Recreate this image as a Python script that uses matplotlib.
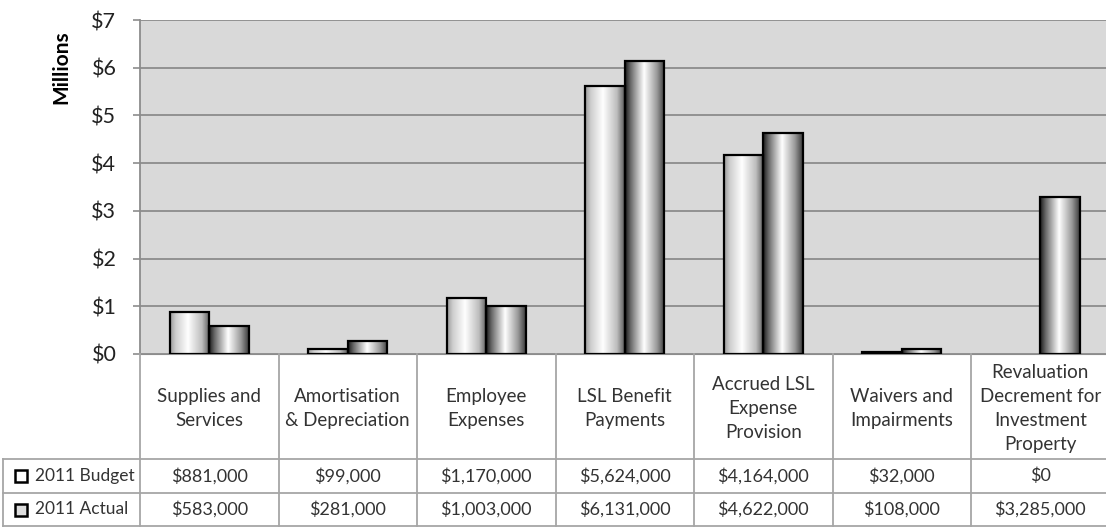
import numpy as np
import matplotlib
matplotlib.use("Agg")
import matplotlib.pyplot as plt
from matplotlib.colors import LinearSegmentedColormap
from matplotlib.patches import Rectangle

plt.rcParams['font.family'] = ['Lato', 'DejaVu Sans']

categories = ["Supplies and\nServices", "Amortisation\n& Depreciation", "Employee\nExpenses",
              "LSL Benefit\nPayments", "Accrued LSL\nExpense\nProvision", "Waivers and\nImpairments",
              "Revaluation\nDecrement for\nInvestment\nProperty"]
series_names = ["2011 Budget", "2011 Actual"]
budget = [881000, 99000, 1170000, 5624000, 4164000, 32000, 0]
actual = [583000, 281000, 1003000, 6131000, 4622000, 108000, 3285000]

W, H = 1106, 527
fig = plt.figure(figsize=(W / 100, H / 100), dpi=100)

# plot area in pixels: left edge, $0 line, $7 line, column width
px_left, px_zero, px_top, col_w = 140, 354, 20, 138.5
ax = fig.add_axes([px_left / W, (H - px_zero) / H, 7 * col_w / W, (px_zero - px_top) / H])
ax.set_facecolor('#d9d9d9')

x = np.arange(len(categories))
bw = 0.285
# shading across each bar: (position, grey level)
cm_budget = LinearSegmentedColormap.from_list('bud', [(0, '#9a9a9a'), (0.15, '#cfcfcf'), (0.45, '#ffffff'),
                                                     (0.8, '#bdbdbd'), (1, '#5a5a5a')])
cm_actual = LinearSegmentedColormap.from_list('act', [(0, '#1a1a1a'), (0.15, '#6e6e6e'), (0.48, '#ffffff'),
                                                     (0.8, '#9a9a9a'), (1, '#3a3a3a')])
grad = np.linspace(0, 1, 256).reshape(1, -1)

vals = [np.array(budget) / 1e6, np.array(actual) / 1e6]
offs = [-bw / 2, bw / 2]
cmaps = [cm_budget, cm_actual]
for v, off, cm in zip(vals, offs, cmaps):
    bars = ax.bar(x + off, v, width=bw, facecolor='none', edgecolor='black', linewidth=1.6, zorder=4)
    for b in bars:
        if b.get_height() <= 0:
            b.set_visible(False)
            continue
        im = ax.imshow(grad, cmap=cm, aspect='auto', zorder=3,
                       extent=[b.get_x(), b.get_x() + b.get_width(), 0, b.get_height()])
        im.set_clip_path(b)

ax.set_xlim(-0.5, len(categories) - 0.5)
ax.set_ylim(0, 7)
ax.set_yticks(range(8))
ax.set_yticklabels(['$%d' % t for t in range(8)])
ax.set_xticks([])
ax.grid(axis='y', color='#8c8c8c', linewidth=1.3, zorder=1)
ax.set_axisbelow(True)
for s in ['top', 'right']:
    ax.spines[s].set_visible(False)
ax.spines['left'].set_color('#8c8c8c')
ax.spines['bottom'].set_color('#8c8c8c')
ax.spines['left'].set_linewidth(1.3)
ax.tick_params(axis='y', length=5, width=1.2, color='#8c8c8c', labelsize=15.5, labelcolor='#222222', pad=12)
ax.set_ylabel('Millions', fontweight='bold', fontsize=15)
ax.yaxis.set_label_coords(-0.071, 0.86)

# data table below the plot: x in category units, y in pixels from the top
tab = fig.add_axes([px_left / W, 0, 7 * col_w / W, 1])
tab.set_xlim(ax.get_xlim())
tab.set_ylim(H, 0)
tab.axis('off')
tab.patch.set_alpha(0)

line_c = '#a6a6a6'
row_y = [px_zero, 459, 493, 526]
x_left_leg = -0.5 - (px_left - 3) / col_w
x_edges = np.arange(len(categories) + 1) - 0.5
for xe in x_edges:
    tab.plot([xe, xe], [row_y[0], row_y[3]], color=line_c, lw=1.3, clip_on=False)
for ry in row_y[1:]:
    tab.plot([x_left_leg, x_edges[-1]], [ry, ry], color=line_c, lw=1.3, clip_on=False)
tab.plot([x_left_leg, x_left_leg], [row_y[1], row_y[3]], color=line_c, lw=1.3, clip_on=False)

for i, c in enumerate(categories):
    tab.text(x[i], (row_y[0] + row_y[1]) / 2 + 2, c, ha='center', va='center', fontsize=13.5,
             color='#333333', linespacing=1.5, clip_on=False)

for r, (name, v, cm) in enumerate(zip(series_names, [budget, actual], cmaps)):
    yc = (row_y[r + 1] + row_y[r + 2]) / 2
    for i, val in enumerate(v):
        tab.text(x[i], yc, '${:,}'.format(val), ha='center', va='center', fontsize=13,
                 color='#333333', clip_on=False)
    # legend key
    kx = x_left_leg + 12 / col_w
    key = Rectangle((kx, yc - 6), 12 / col_w, 12, facecolor='white' if r == 0 else '#dddddd',
                    edgecolor='black', linewidth=1.8, clip_on=False)
    tab.add_patch(key)
    tab.text(kx + 20 / col_w, yc, name, ha='left', va='center', fontsize=12.5, color='#333333',
             clip_on=False)

fig.savefig('out.png', dpi=100)
